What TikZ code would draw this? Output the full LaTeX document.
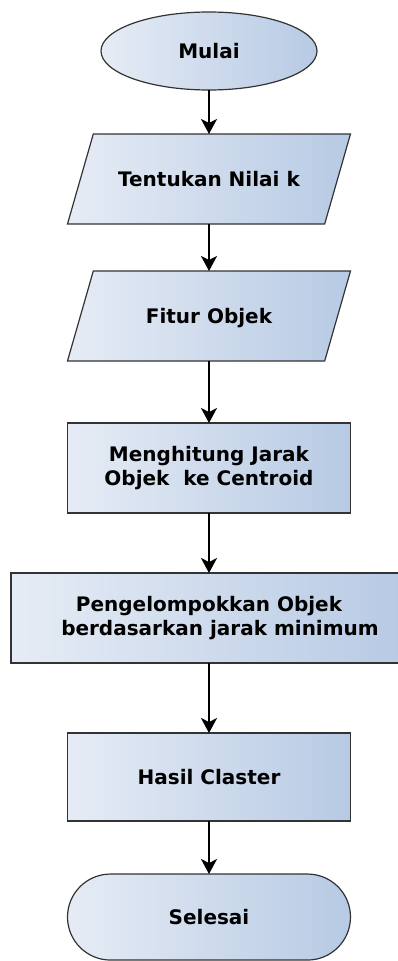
\documentclass[tikz,border=0pt]{standalone}
\usepackage{fontspec}
\usepackage{xcolor}
\usetikzlibrary{arrows.meta, positioning, shapes.geometric}

\newfontfamily\chartfont{DejaVu Sans}
\definecolor{boxlight}{HTML}{E6ECF5}
\definecolor{boxdark}{HTML}{B7CAE4}
\definecolor{boxline}{HTML}{333333}

\begin{document}
\begin{tikzpicture}[x=1pt, y=1pt, >={Stealth[length=15pt, width=16pt, inset=4pt]},
    base/.style={draw=boxline, line width=1.2pt, left color=boxlight, right color=boxdark,
        align=center, inner sep=0pt, outer sep=0pt,
        font=\chartfont\bfseries\fontsize{20}{23.5}\selectfont},
    startstop/.style={base, ellipse, minimum width=216pt, minimum height=78pt},
    io/.style={base, trapezium, trapezium left angle=74, trapezium right angle=106,
        trapezium stretches body, text height=52.3pt, text depth=37.7pt, minimum width=283pt},
    process/.style={base, rectangle, minimum width=283pt, minimum height=90pt},
    terminal/.style={base, rectangle, rounded corners=43pt, minimum width=283pt, minimum height=86pt},
    flow/.style={->, line width=2pt, black}]

    \useasboundingbox (0,0) rectangle (398,-961);

    \node[startstop] (mulai) at (209,-51) {Mulai};
    \node[io, below=44pt of mulai] (nilaik) {Tentukan Nilai k};
    \node[io, below=47pt of nilaik] (fitur) {Fitur Objek};
    \node[process, below=62pt of fitur] (jarak) {Menghitung Jarak\\Objek\ \ ke Centroid};
    \node[process, minimum width=396pt, below=60pt of jarak] (kelompok) {Pengelompokkan Objek\\\hspace*{1.1em}berdasarkan jarak minimum};
    \node[process, minimum height=88pt, below=70pt of kelompok] (hasil) {Hasil Claster};
    \node[terminal, below=53pt of hasil] (selesai) {Selesai};

    \draw[flow] (mulai.south) -- (nilaik.north);
    \draw[flow] (nilaik.south) -- (fitur.north);
    \draw[flow] (fitur.south) -- (jarak.north);
    \draw[flow] (jarak.south) -- (kelompok.north);
    \draw[flow] (kelompok.south) -- (hasil.north);
    \draw[flow] (hasil.south) -- (selesai.north);
\end{tikzpicture}
\end{document}
